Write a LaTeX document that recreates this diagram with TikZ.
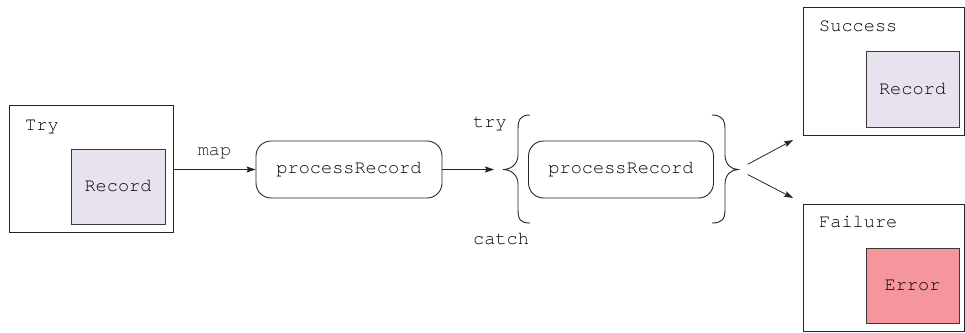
\documentclass[tikz,border=0pt]{standalone}
\usepackage{fontspec}
\setmonofont{TeX Gyre Cursor}
\usetikzlibrary{arrows.meta}
\definecolor{edgegray}{HTML}{262626}
\definecolor{itemgray}{HTML}{3A3A3A}
\definecolor{recfill}{HTML}{E8E1EE}
\definecolor{errfill}{HTML}{F4969B}
\tikzset{
  every node/.append style={font=\ttfamily\fontsize{18.6}{22}\selectfont},
  container/.style={draw=edgegray, line width=0.9pt, minimum width=#1, inner sep=0pt},
  item/.style={draw=itemgray, line width=1pt, minimum width=93pt, minimum height=75pt, inner sep=0pt},
  stage/.style={draw=edgegray, line width=0.9pt, rounded corners=15pt, minimum width=186pt, minimum height=57pt, inner sep=0pt},
  flow/.style={-{Stealth[length=9pt, width=6pt, inset=1.5pt]}, line width=0.8pt, color=edgegray},
  curl/.style={line width=0.9pt, color=edgegray},
  tag/.style={inner sep=0pt, anchor=base west}
}

\begin{document}
\begin{tikzpicture}[x=1pt, y=-1pt]
\useasboundingbox (0,0) rectangle (965,332);
% input side
\node[container=164pt, minimum height=127pt] (try) at (91,168.5) {};
\node[tag] (trylbl) at (25,130.7) {Try};
\node[item, fill=recfill, minimum width=94pt] (rec) at (118,186.5) {Record};
\node[stage] (proc) at (349,169.5) {processRecord};
\draw[flow] (try.east |- proc) -- (proc.west) node[midway, inner sep=0pt, anchor=base, yshift=14pt] (maplbl) {map};
% try / catch block
\node[stage, minimum width=185pt] (inner) at (621,169.5) {processRecord};
\coordinate (lbrace) at (503,169.5);
\coordinate (rbrace) at (738,169.5);
\draw[curl] (530,115) .. controls (521,115) and (518,119) .. (518,129) -- (518,155)
  .. controls (518,164) and (511,169.5) .. (lbrace)
  .. controls (511,169.5) and (518,175) .. (518,184) -- (518,210)
  .. controls (518,220) and (521,223) .. (530,223);
\draw[curl] (712,115) .. controls (721,115) and (725,119) .. (725,129) -- (725,155)
  .. controls (725,164) and (731,169.5) .. (rbrace)
  .. controls (731,169.5) and (725,175) .. (725,184) -- (725,210)
  .. controls (725,220) and (721,223) .. (712,223);
\node[tag] (trykw) at (473,127.3) {try};
\node[tag] (catchkw) at (473,244) {catch};
\draw[flow, shorten >=9pt] (proc.east) -- (lbrace);
% results
\node[container=161.5pt, minimum height=128pt] (ok) at (883.75,71) {};
\node[tag] (oklbl) at (819,31.7) {Success};
\node[item, fill=recfill, minimum height=76pt] (okrec) at (912.5,89) {Record};
\node[container=161.5pt, minimum height=127pt] (fail) at (883.75,267.5) {};
\node[tag] (faillbl) at (819,227.7) {Failure};
\node[item, fill=errfill] (err) at (912.5,285.5) {Error};
\coordinate (okend) at (793,140);
\coordinate (failend) at (793,198);
\draw[flow, shorten <=11pt] (rbrace) -- (okend);
\draw[flow, shorten <=11pt] (rbrace) -- (failend);
\end{tikzpicture}
\end{document}
